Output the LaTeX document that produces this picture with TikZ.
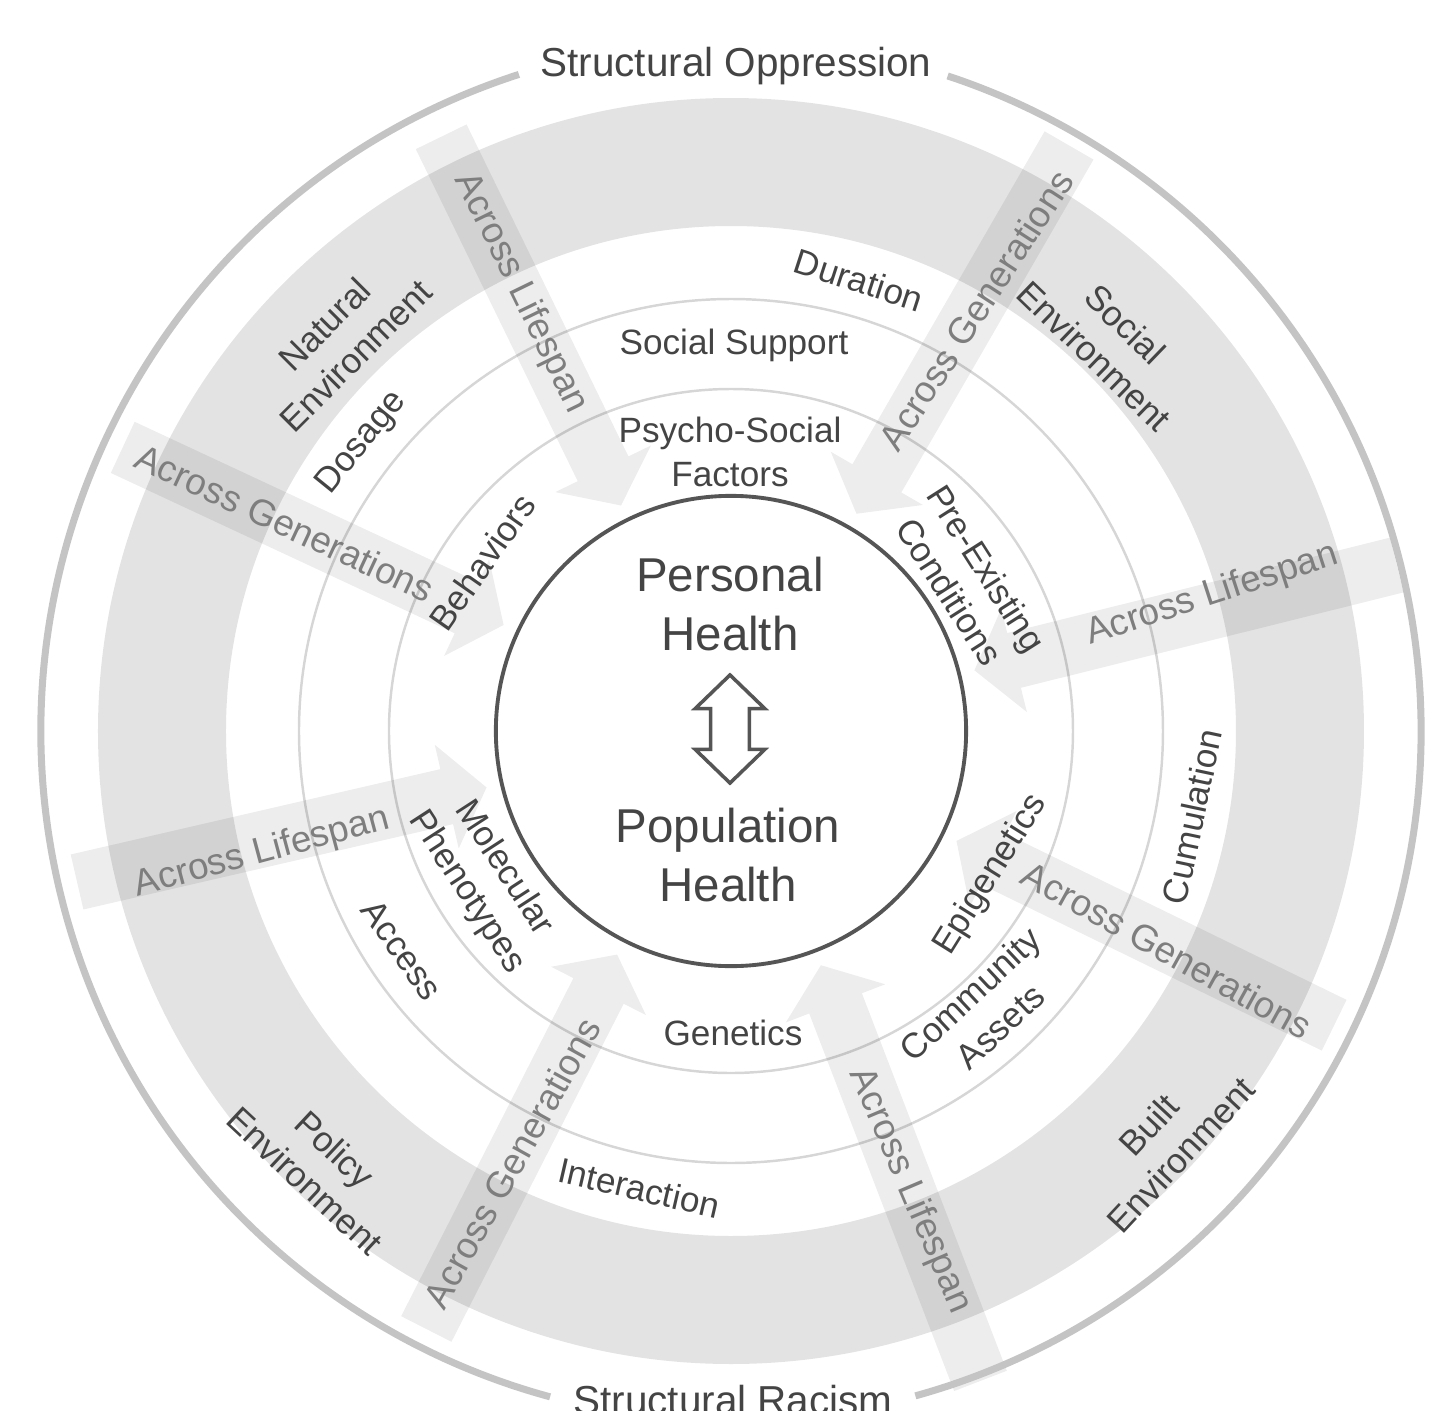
\documentclass[tikz,border=0pt]{standalone}
\usepackage{fontspec}
\setmainfont{Liberation Sans}
\usepackage{xcolor}
\definecolor{bandGray}{HTML}{E3E3E3}
\definecolor{ringLine}{HTML}{D6D6D6}
\definecolor{hubLine}{HTML}{555555}
\definecolor{outerLine}{HTML}{C4C4C4}
\definecolor{labelDark}{HTML}{444444}
\definecolor{labelLight}{HTML}{7E7E7E}
\usepackage{tikz}
\usetikzlibrary{shapes.arrows, positioning}

\begin{document}
\begin{tikzpicture}[
  x=0.01cm, y=0.01cm,
  factor/.style={
    text=labelDark, align=center, inner sep=0pt,
    font=\fontsize{10}{12.5}\selectfont
  },
  across/.style={
    text=labelLight, inner sep=0pt,
    font=\fontsize{10.5}{12.5}\selectfont
  },
  health/.style={
    text=hubLine!80!black, align=center, inner sep=0pt,
    font=\fontsize{13.5}{16.8}\selectfont
  },
  structural/.style={
    text=labelDark, anchor=base, inner sep=0pt,
    font=\fontsize{11.5}{13}\selectfont
  },
  flow/.style={
    single arrow, draw=none, fill=black, fill opacity=0.07,
    anchor=tip, inner xsep=0pt, inner ysep=0.275cm,
    single arrow head extend=0.25cm, single arrow tip angle=105,
    minimum height=4.2cm
  },
  outer/.style={outerLine, line width=2pt}
]
  \useasboundingbox (-731,-680) rectangle (698,731);
  \clip (-731,-680) rectangle (698,731);

  % environment band and ring lines
  \fill[bandGray, even odd rule] (0,0) circle (633) (0,0) circle (505);
  \draw[ringLine, line width=0.7pt] (0,0) circle (432);
  \draw[ringLine, line width=0.7pt] (0,0) circle (342);

  % arrows pointing to the hub
  \node[flow, rotate=296, minimum height=4.1cm] (flowLifeNW) at (116:250) {};
  \node[flow, rotate=240, minimum height=4.25cm] (flowGenNE) at (60:250) {};
  \node[flow, rotate=194, minimum height=4.35cm] (flowLifeE) at (14:250) {};
  \node[flow, rotate=154] (flowGenSE) at (-26:250) {};
  \node[flow, rotate=111, minimum height=4.45cm] (flowLifeS) at (-69:250) {};
  \node[flow, rotate=63] (flowGenSW) at (243:250) {};
  \node[flow, rotate=13] (flowLifeW) at (193:250) {};
  \node[flow, rotate=335] (flowGenNW) at (155:250) {};

  % hub
  \node[circle, draw=hubLine, line width=1.1pt, fill=white, minimum size=4.7cm] (hub) at (0,0) {};
  \node[health] (personal) at (-1,127) {Personal\\Health};
  \node[health] (population) at (-3,-124) {Population\\Health};
  \node[double arrow, draw=hubLine, line width=1pt, fill=white, rotate=90,
    inner xsep=0pt, inner ysep=0.175cm, minimum height=1.08cm,
    double arrow head extend=0.155cm, double arrow tip angle=92] (link) at (-1,2) {};

  % outer arcs
  \draw[outer] (107.9:690) arc[start angle=107.9, end angle=254.8, radius=690];
  \draw[outer] (285.5:690) arc[start angle=285.5, end angle=431.7, radius=690];
  \node[structural] (oppression) at (5,655) {Structural Oppression};
  \node[structural] (racism) at (2,-683) {Structural Racism};

  % inner ring
  \node[factor] (psycho) at (-1,279) {Psycho-Social\\Factors};
  \node[factor, rotate=-57.5] (preexist) at (237,151) {Pre-Existing\\Conditions};
  \node[factor, rotate=58] (epigen) at (260,-144) {Epigenetics};
  \node[factor] (genetics) at (2,-302) {Genetics};
  \node[factor, rotate=-57] (molecular) at (-246,-149) {Molecular\\Phenotypes};
  \node[factor, rotate=55] (behav) at (-249,169) {Behaviors};

  % middle ring
  \node[factor] (support) at (3,386) {Social Support};
  \node[factor, rotate=43] (assets) at (254,-279) {Community\\Assets};
  \node[factor, rotate=-55] (access) at (-329,-219) {Access};

  % outer ring
  \node[factor, rotate=-18] (duration) at (128,451) {Duration};
  \node[factor, rotate=78] (cumul) at (461,-86) {Cumulation};
  \node[factor, rotate=-13] (interact) at (-92,-457) {Interaction};
  \node[factor, rotate=51] (dosage) at (-369,288) {Dosage};

  % environments
  \node[factor, rotate=45] (natural) at (-391,391) {Natural\\Environment};
  \node[factor, rotate=-44] (social) at (379,391) {Social\\Environment};
  \node[factor, rotate=47] (built) at (434,-409) {Built\\Environment};
  \node[factor, rotate=-43] (policy) at (-411,-434) {Policy\\Environment};

  % arrow labels
  \node[across, rotate=-64] (lifeNW) at (-210,438) {Across Lifespan};
  \node[across, rotate=57] (genNE) at (245,421) {Across Generations};
  \node[across, rotate=18] (lifeE) at (481,136) {Across Lifespan};
  \node[across, rotate=-29] (genSE) at (436,-219) {Across Generations};
  \node[across, rotate=-67] (lifeS) at (179,-460) {Across Lifespan};
  \node[across, rotate=61] (genSW) at (-219,-432) {Across Generations};
  \node[across, rotate=15] (lifeW) at (-469,-122) {Across Lifespan};
  \node[across, rotate=-25] (genNW) at (-446,208) {Across Generations};
\end{tikzpicture}
\end{document}
